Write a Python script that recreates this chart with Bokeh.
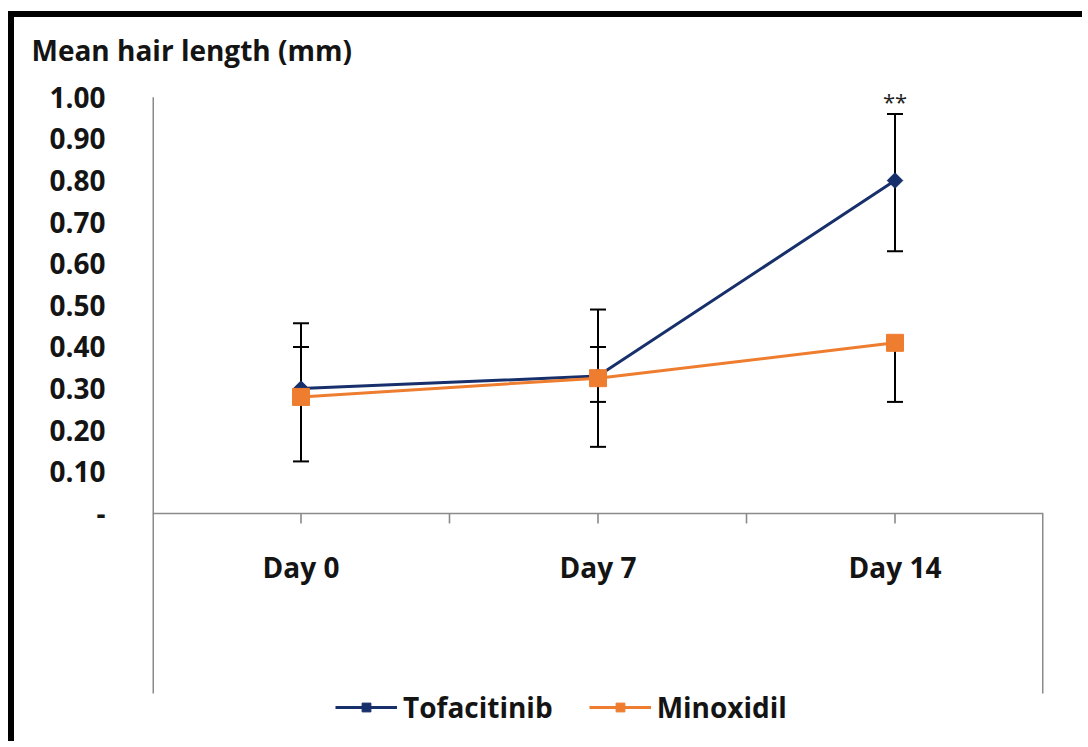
import numpy as np
from bokeh.plotting import figure
from bokeh.models import (ColumnDataSource, Range1d, FixedTicker, Whisker, TeeHead,
                          Legend, LegendItem, Label)
from bokeh.core.properties import value
from bokeh.embed import file_html
from bokeh.resources import INLINE

# ---- data ----
days = ["Day 0", "Day 7", "Day 14"]
tofa_mean = [0.30, 0.33, 0.80]
tofa_upper = [0.457, 0.49, 0.96]
tofa_lower = [0.125, 0.16, 0.63]
minox_mean = [0.28, 0.325, 0.41]
minox_upper = [0.40, 0.40, 0.41]
minox_lower = [0.28, 0.268, 0.268]
y_ticks = [0.0, 0.1, 0.2, 0.3, 0.4, 0.5, 0.6, 0.7, 0.8, 0.9, 1.0]
y_tick_labels = ["-", "0.10", "0.20", "0.30", "0.40", "0.50", "0.60", "0.70", "0.80", "0.90", "1.00"]
sig_label = "**"
title_text = "Mean hair length (mm)"

FONT = "Open Sans"
NAVY = "#172f6b"
ORANGE = "#ee7d2f"
AXIS_GRAY = "#8a8a8a"
TEXT = "#141414"

PX_PER_UNIT = 416.0               # vertical scale of the value axis
AXIS_DROP = 180.0 / PX_PER_UNIT   # how far the separator lines go below the axis
TICK_LEN = 10.0 / PX_PER_UNIT
LABEL_DROP = 54.0 / PX_PER_UNIT
Y_TOP = 1.05                      # a little head-room above 1.00 for the "**"

n = len(days)
xs = [i + 0.5 for i in range(n)]

p = figure(width=1074, height=730,
           x_range=Range1d(0, n), y_range=Range1d(-234.0 / PX_PER_UNIT, Y_TOP),
           output_backend="svg", toolbar_location=None,
           min_border_left=138, min_border_right=45,
           min_border_top=59, min_border_bottom=0)
p.styles = {"border-left": "6px solid black", "border-top": "6px solid black",
            "margin-top": "11px", "margin-left": "8px"}
p.grid.visible = False
p.outline_line_color = None
p.background_fill_color = "white"
p.border_fill_color = "white"
p.xaxis.visible = False

# title
p.title.text = title_text
p.title.align = "left"
p.title.offset = -121
p.title.standoff = 15
p.title.text_font = FONT
p.title.text_font_size = "28px"
p.title.text_font_style = "bold"
p.title.text_color = TEXT

# y axis (labels only; the line is drawn below so it stops where the reference does)
ya = p.yaxis[0]
ya.ticker = FixedTicker(ticks=y_ticks)
ya.major_label_overrides = {t: l for t, l in zip(y_ticks, y_tick_labels)}
ya.major_tick_out = 0
ya.major_tick_in = 0
ya.minor_tick_out = 0
ya.minor_tick_in = 0
ya.axis_line_color = None
ya.major_label_standoff = 47
ya.major_label_text_font = FONT
ya.major_label_text_font_size = "28px"
ya.major_label_text_font_style = "bold"
ya.major_label_text_color = TEXT

# axis lines: value axis, category axis and right separator
p.segment(x0=[0, 0, n], y0=[-AXIS_DROP, 0, -AXIS_DROP],
          x1=[0, n, n], y1=[y_ticks[-1], 0, 0],
          line_color=AXIS_GRAY, line_width=[3, 1.6, 3])

# category ticks (centres and boundaries)
x_ticks = [0.5 * k for k in range(1, 2 * n)]
p.segment(x0=x_ticks, y0=[0] * len(x_ticks), x1=x_ticks,
          y1=[-TICK_LEN] * len(x_ticks), line_color=AXIS_GRAY, line_width=1.6)

# category labels
p.text(x=xs, y=[-LABEL_DROP] * n, text=days, text_align="center",
       text_baseline="middle", text_font=value(FONT), text_font_size="28px",
       text_font_style="bold", text_color=TEXT)

# error bars
for up, lo in ((tofa_upper, tofa_lower), (minox_upper, minox_lower)):
    src = ColumnDataSource(dict(x=xs, upper=up, lower=lo))
    w = Whisker(base="x", upper="upper", lower="lower", source=src,
                line_color="black", line_width=2, level="underlay",
                upper_head=TeeHead(size=16, line_color="black", line_width=2),
                lower_head=TeeHead(size=16, line_color="black", line_width=2))
    p.add_layout(w)

# series
l1 = p.line(xs, tofa_mean, line_color=NAVY, line_width=3)
s1 = p.scatter(xs, tofa_mean, marker="square", angle=np.pi / 4, size=11,
               fill_color=NAVY, line_color=NAVY)
l2 = p.line(xs, minox_mean, line_color=ORANGE, line_width=3)
s2 = p.scatter(xs, minox_mean, marker="square", size=17,
               fill_color=ORANGE, line_color=ORANGE)

p.add_layout(Label(x=xs[-1], y=0.99, text=sig_label, text_align="center",
                   text_baseline="middle", text_font=FONT,
                   text_font_size="22px", text_color="#222222"))

legend = Legend(items=[LegendItem(label="Tofacitinib", renderers=[l1, s1]),
                       LegendItem(label="Minoxidil", renderers=[l2, s2])],
                orientation="horizontal", location=(183, 21),
                border_line_color=None, background_fill_alpha=0,
                label_text_font=FONT, label_text_font_size="28px",
                label_text_font_style="bold", label_text_color=TEXT,
                glyph_width=62, glyph_height=22, label_standoff=6,
                spacing=36, padding=0, margin=0)
p.add_layout(legend)

open("out.html", "w").write(file_html(p, INLINE))
